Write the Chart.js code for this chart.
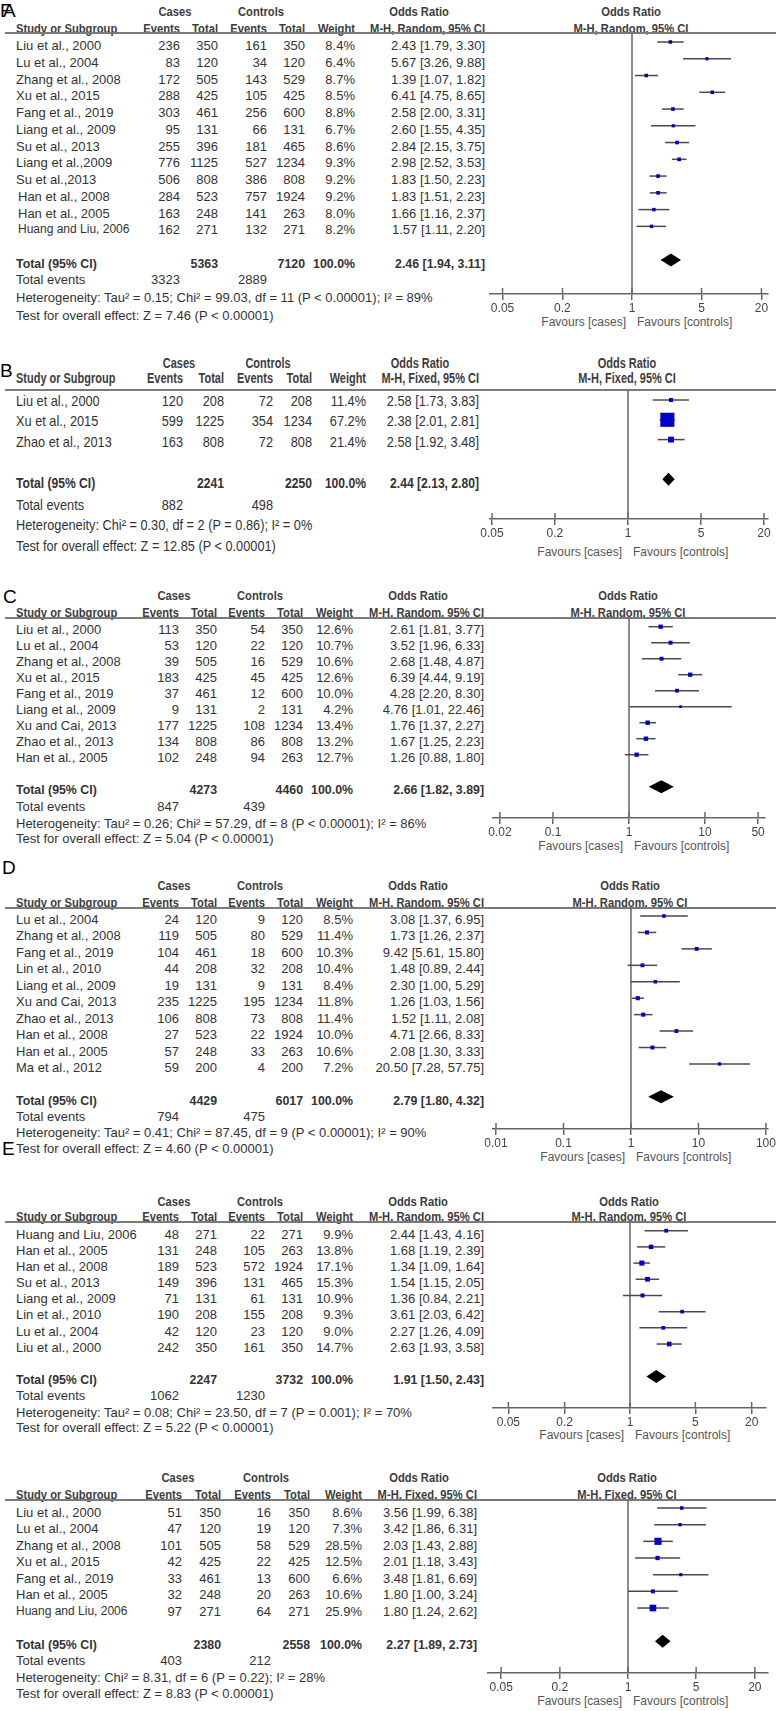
<!DOCTYPE html>
<html><head><meta charset="utf-8">
<script src="https://cdn.jsdelivr.net/npm/chart.js@4.4.0/dist/chart.umd.min.js"></script>
<style>
html,body{margin:0;padding:0;background:#fff;width:778px;height:1711px;overflow:hidden;}
#page{position:relative;width:778px;height:1711px;font-family:"Liberation Sans",Arial,sans-serif;color:#333;}
.t{position:absolute;white-space:nowrap;line-height:1;}
.hl{position:absolute;background:#7a7a7a;}
.wrap{position:absolute;}
</style></head><body><div id="page"></div>
<script>
// ---------------- DATA ----------------
// Panel A
const A_STUDY = ["Liu et al., 2000","Lu et al., 2004","Zhang et al., 2008","Xu et al., 2015","Fang et al., 2019","Liang et al., 2009","Su et al., 2013","Liang et al.,2009","Su et al.,2013","Han et al., 2008","Han et al., 2005","Huang and Liu, 2006"];
const A_CASE_EV = [236,83,172,288,303,95,255,776,506,284,163,162];
const A_CASE_N  = [350,120,505,425,461,131,396,1125,808,523,248,271];
const A_CTRL_EV = [161,34,143,105,256,66,181,527,386,757,141,132];
const A_CTRL_N  = [350,120,529,425,600,131,465,1234,808,1924,263,271];
const A_WEIGHT  = [8.4,6.4,8.7,8.5,8.8,6.7,8.6,9.3,9.2,9.2,8.0,8.2];
const A_OR = [2.43,5.67,1.39,6.41,2.58,2.60,2.84,2.98,1.83,1.83,1.66,1.57];
const A_LO = [1.79,3.26,1.07,4.75,2.00,1.55,2.15,2.52,1.50,1.51,1.16,1.11];
const A_HI = [3.30,9.88,1.82,8.65,3.31,4.35,3.75,3.53,2.23,2.23,2.37,2.20];
const A_TOTAL_N = [5363,7120];
const A_TOTAL_EV = [3323,2889];
const A_POOLED = [2.46,1.94,3.11];
const A_HET = "Heterogeneity: Tau\u00b2 = 0.15; Chi\u00b2 = 99.03, df = 11 (P < 0.00001); I\u00b2 = 89%";
const A_TEST = "Test for overall effect: Z = 7.46 (P < 0.00001)";
const A_METHOD = "Random";
const A_TICKS = [0.05,0.2,1,5,20];
const A_TICK_LABELS = ["0.05","0.2","1","5","20"];

// Panel B
const B_STUDY = ["Liu et al., 2000","Xu et al., 2015","Zhao et al., 2013"];
const B_CASE_EV = [120,599,163];
const B_CASE_N  = [208,1225,808];
const B_CTRL_EV = [72,354,72];
const B_CTRL_N  = [208,1234,808];
const B_WEIGHT  = [11.4,67.2,21.4];
const B_OR = [2.58,2.38,2.58];
const B_LO = [1.73,2.01,1.92];
const B_HI = [3.83,2.81,3.48];
const B_TOTAL_N = [2241,2250];
const B_TOTAL_EV = [882,498];
const B_POOLED = [2.44,2.13,2.80];
const B_HET = "Heterogeneity: Chi\u00b2 = 0.30, df = 2 (P = 0.86); I\u00b2 = 0%";
const B_TEST = "Test for overall effect: Z = 12.85 (P < 0.00001)";
const B_METHOD = "Fixed";
const B_TICKS = [0.05,0.2,1,5,20];
const B_TICK_LABELS = ["0.05","0.2","1","5","20"];

// Panel C
const C_STUDY = ["Liu et al., 2000","Lu et al., 2004","Zhang et al., 2008","Xu et al., 2015","Fang et al., 2019","Liang et al., 2009","Xu and Cai, 2013","Zhao et al., 2013","Han et al., 2005"];
const C_CASE_EV = [113,53,39,183,37,9,177,134,102];
const C_CASE_N  = [350,120,505,425,461,131,1225,808,248];
const C_CTRL_EV = [54,22,16,45,12,2,108,86,94];
const C_CTRL_N  = [350,120,529,425,600,131,1234,808,263];
const C_WEIGHT  = [12.6,10.7,10.6,12.6,10.0,4.2,13.4,13.2,12.7];
const C_OR = [2.61,3.52,2.68,6.39,4.28,4.76,1.76,1.67,1.26];
const C_LO = [1.81,1.96,1.48,4.44,2.20,1.01,1.37,1.25,0.88];
const C_HI = [3.77,6.33,4.87,9.19,8.30,22.46,2.27,2.23,1.80];
const C_TOTAL_N = [4273,4460];
const C_TOTAL_EV = [847,439];
const C_POOLED = [2.66,1.82,3.89];
const C_HET = "Heterogeneity: Tau\u00b2 = 0.26; Chi\u00b2 = 57.29, df = 8 (P < 0.00001); I\u00b2 = 86%";
const C_TEST = "Test for overall effect: Z = 5.04 (P < 0.00001)";
const C_METHOD = "Random";
const C_TICKS = [0.02,0.1,1,10,50];
const C_TICK_LABELS = ["0.02","0.1","1","10","50"];

// Panel D
const D_STUDY = ["Lu et al., 2004","Zhang et al., 2008","Fang et al., 2019","Lin et al., 2010","Liang et al., 2009","Xu and Cai, 2013","Zhao et al., 2013","Han et al., 2008","Han et al., 2005","Ma et al., 2012"];
const D_CASE_EV = [24,119,104,44,19,235,106,27,57,59];
const D_CASE_N  = [120,505,461,208,131,1225,808,523,248,200];
const D_CTRL_EV = [9,80,18,32,9,195,73,22,33,4];
const D_CTRL_N  = [120,529,600,208,131,1234,808,1924,263,200];
const D_WEIGHT  = [8.5,11.4,10.3,10.4,8.4,11.8,11.4,10.0,10.6,7.2];
const D_OR = [3.08,1.73,9.42,1.48,2.30,1.26,1.52,4.71,2.08,20.50];
const D_LO = [1.37,1.26,5.61,0.89,1.00,1.03,1.11,2.66,1.30,7.28];
const D_HI = [6.95,2.37,15.80,2.44,5.29,1.56,2.08,8.33,3.33,57.75];
const D_TOTAL_N = [4429,6017];
const D_TOTAL_EV = [794,475];
const D_POOLED = [2.79,1.80,4.32];
const D_HET = "Heterogeneity: Tau\u00b2 = 0.41; Chi\u00b2 = 87.45, df = 9 (P < 0.00001); I\u00b2 = 90%";
const D_TEST = "Test for overall effect: Z = 4.60 (P < 0.00001)";
const D_METHOD = "Random";
const D_TICKS = [0.01,0.1,1,10,100];
const D_TICK_LABELS = ["0.01","0.1","1","10","100"];

// Panel E
const E_STUDY = ["Huang and Liu, 2006","Han et al., 2005","Han et al., 2008","Su et al., 2013","Liang et al., 2009","Lin et al., 2010","Lu et al., 2004","Liu et al., 2000"];
const E_CASE_EV = [48,131,189,149,71,190,42,242];
const E_CASE_N  = [271,248,523,396,131,208,120,350];
const E_CTRL_EV = [22,105,572,131,61,155,23,161];
const E_CTRL_N  = [271,263,1924,465,131,208,120,350];
const E_WEIGHT  = [9.9,13.8,17.1,15.3,10.9,9.3,9.0,14.7];
const E_OR = [2.44,1.68,1.34,1.54,1.36,3.61,2.27,2.63];
const E_LO = [1.43,1.19,1.09,1.15,0.84,2.03,1.26,1.93];
const E_HI = [4.16,2.39,1.64,2.05,2.21,6.42,4.09,3.58];
const E_TOTAL_N = [2247,3732];
const E_TOTAL_EV = [1062,1230];
const E_POOLED = [1.91,1.50,2.43];
const E_HET = "Heterogeneity: Tau\u00b2 = 0.08; Chi\u00b2 = 23.50, df = 7 (P = 0.001); I\u00b2 = 70%";
const E_TEST = "Test for overall effect: Z = 5.22 (P < 0.00001)";
const E_METHOD = "Random";
const E_TICKS = [0.05,0.2,1,5,20];
const E_TICK_LABELS = ["0.05","0.2","1","5","20"];

// Panel F
const F_STUDY = ["Liu et al., 2000","Lu et al., 2004","Zhang et al., 2008","Xu et al., 2015","Fang et al., 2019","Han et al., 2005","Huang and Liu, 2006"];
const F_CASE_EV = [51,47,101,42,33,32,97];
const F_CASE_N  = [350,120,505,425,461,248,271];
const F_CTRL_EV = [16,19,58,22,13,20,64];
const F_CTRL_N  = [350,120,529,425,600,263,271];
const F_WEIGHT  = [8.6,7.3,28.5,12.5,6.6,10.6,25.9];
const F_OR = [3.56,3.42,2.03,2.01,3.48,1.80,1.80];
const F_LO = [1.99,1.86,1.43,1.18,1.81,1.00,1.24];
const F_HI = [6.38,6.31,2.88,3.43,6.69,3.24,2.62];
const F_TOTAL_N = [2380,2558];
const F_TOTAL_EV = [403,212];
const F_POOLED = [2.27,1.89,2.73];
const F_HET = "Heterogeneity: Chi\u00b2 = 8.31, df = 6 (P = 0.22); I\u00b2 = 28%";
const F_TEST = "Test for overall effect: Z = 8.83 (P < 0.00001)";
const F_METHOD = "Fixed";
const F_TICKS = [0.05,0.2,1,5,20];
const F_TICK_LABELS = ["0.05","0.2","1","5","20"];

// ---------------- LAYOUT (positions / styles only) ----------------
const LAYOUT = {
  A:{h1:11,h2:28,line:33,row0:42,pitch:16.76,tRow0:45,tPitch:16.76,ev:279,het:297,test:315,axis:294,fav:322,one:632,k:99.5,xl:490,xr:768,
     cols:[16,180,218,267,305,355,485],h1x:[175,261,419],rowStyle:{9:{dx:2},10:{dx:2},11:{dx:2,fs:12}}},
  B:{h1:363,h2:378,line:390,row0:400,pitch:19.8,tRow0:400.5,tPitch:20.6,ev:505,het:525,test:546,axis:519,fav:552,one:628,k:104.5,xl:490,xr:768,
     cols:[16,183,224,273,312,366,479],h1x:[179,268,420],fs:14.5,sx:0.88},
  C:{h1:595,h2:612,line:618,row0:626.7,pitch:16.0,tRow0:629,tPitch:16.0,ev:806,het:823,test:838,axis:818,fav:846,one:629,k:76,xl:493,xr:765,
     cols:[16,179,217,265,303,353,484],h1x:[174,260,418]},
  D:{h1:885,h2:902,line:908,row0:916,pitch:16.44,tRow0:919,tPitch:16.44,ev:1116,het:1132,test:1148,axis:1129,fav:1157,one:631,k:67.5,xl:493,xr:768,
     cols:[16,179,217,265,303,353,484],h1x:[174,260,418]},
  E:{h1:1201,h2:1216,line:1222,row0:1230.7,pitch:16.19,tRow0:1233.5,tPitch:16.19,ev:1395,het:1412,test:1427,axis:1408,fav:1435,one:630,k:93.5,xl:493,xr:766,
     cols:[16,179,217,265,303,353,484],h1x:[174,260,418]},
  F:{h1:1477,h2:1494,line:1500,row0:1508,pitch:16.67,tRow0:1511.5,tPitch:16.5,ev:1660,het:1677,test:1693,axis:1673,fav:1701,one:628,k:97.5,xl:488,xr:768,
     cols:[16,182,221,271,310,362,477],h1x:[178,266,419],rowStyle:{6:{fs:12}}}
};
const LETTERS = [["F",0,10],["A",3,10],["B",0,370],["C",3,596],["D",2,867],["E",2,1148]];

// ---------------- RENDER ----------------
const page = document.getElementById('page');
const FONT = '"Liberation Sans", Arial, sans-serif';

function put(s, x, y, al, o) {
  o = o || {};
  const d = document.createElement('div');
  d.className = 't';
  d.textContent = s;
  d.style.fontSize = (o.fs || 13) + 'px';
  if (o.bold) d.style.fontWeight = 'bold';
  d.style.color = o.color || '#333';
  const sx = o.sx || 1;
  const tx = al === 'l' ? '0' : (al === 'r' ? '-100%' : '-50%');
  d.style.left = x + 'px';
  d.style.top = y + 'px';
  d.style.transformOrigin = (al === 'l' ? 'left' : (al === 'r' ? 'right' : 'center')) + ' center';
  d.style.transform = 'translate(' + tx + ',-50%) scaleX(' + sx + ')';
  page.appendChild(d);
}
function hline(x1, x2, y, w) {
  const d = document.createElement('div');
  d.className = 'hl';
  d.style.left = x1 + 'px'; d.style.width = (x2 - x1) + 'px';
  d.style.top = (y - w / 2) + 'px'; d.style.height = w + 'px';
  page.appendChild(d);
}
function fmtOR(o, l, h) { return o.toFixed(2) + ' [' + l.toFixed(2) + ', ' + h.toFixed(2) + ']'; }

function forestPlugin(P) {
  return {
    id: 'forest' + P.id,
    beforeDatasetsDraw(chart) {
      const ctx = chart.ctx, ca = chart.chartArea, xs = chart.scales.x, ys = chart.scales.y;
      ctx.save();
      const x1 = xs.getPixelForValue(1);
      ctx.strokeStyle = '#666'; ctx.lineWidth = 1.5;
      ctx.beginPath(); ctx.moveTo(x1, ca.top); ctx.lineTo(x1, ca.bottom); ctx.stroke();
      ctx.beginPath();
      P.ticks.forEach(v => { const px = xs.getPixelForValue(v); ctx.moveTo(px, ca.bottom - 6); ctx.lineTo(px, ca.bottom); });
      ctx.stroke();
      ctx.strokeStyle = '#4a4a4a'; ctx.lineWidth = 1.5;
      P.lo.forEach((lo, i) => {
        const py = ys.getPixelForValue(i);
        const a = Math.max(ca.left, xs.getPixelForValue(lo)), b = Math.min(ca.right, xs.getPixelForValue(P.hi[i]));
        ctx.beginPath(); ctx.moveTo(a, py); ctx.lineTo(b, py); ctx.stroke();
      });
      const dy = ys.getPixelForValue(P.study.length + 1);
      const pl = xs.getPixelForValue(P.pooled[1]), pm = xs.getPixelForValue(P.pooled[0]), pr = xs.getPixelForValue(P.pooled[2]);
      ctx.fillStyle = '#000';
      ctx.beginPath(); ctx.moveTo(pl, dy); ctx.lineTo(pm, dy - 6.5); ctx.lineTo(pr, dy); ctx.lineTo(pm, dy + 6.5); ctx.closePath(); ctx.fill();
      ctx.restore();
    }
  };
}

function makeChart(P) {
  const L = P.L;
  const padL = 22, padR = 8;
  const wrap = document.createElement('div');
  wrap.className = 'wrap';
  let W = (L.xr - L.xl) + padL + padR;
  let H = (L.axis - L.line) + 40;
  wrap.style.width = W + 'px'; wrap.style.height = H + 'px';
  wrap.style.left = (L.xl - padL) + 'px'; wrap.style.top = L.line + 'px';
  const cv = document.createElement('canvas');
  wrap.appendChild(cv); page.appendChild(wrap);
  const xmin = Math.pow(10, (L.xl - L.one) / L.k), xmax = Math.pow(10, (L.xr - L.one) / L.k);
  const ymin = (L.line - L.row0) / L.pitch, ymax = (L.axis - L.row0) / L.pitch;
  const chart = new Chart(cv, {
    type: 'scatter',
    data: { datasets: [{
      data: P.or.map((v, i) => ({ x: v, y: i })),
      pointStyle: 'rect',
      pointRadius: P.w.map(w => (2 + 0.18 * w) / Math.SQRT2),
      pointHoverRadius: P.w.map(w => (2 + 0.18 * w) / Math.SQRT2),
      backgroundColor: '#0000c8', borderWidth: 0, pointBorderWidth: 0
    }]},
    options: {
      responsive: true, maintainAspectRatio: false, animation: false, events: [],
      layout: { padding: { left: padL, right: padR, top: 0, bottom: 0 }, autoPadding: false },
      plugins: { legend: { display: false }, tooltip: { enabled: false } },
      scales: {
        x: {
          type: 'logarithmic', min: xmin, max: xmax,
          afterBuildTicks: s => { s.ticks = P.ticks.map(v => ({ value: v })); },
          ticks: { autoSkip: false, maxRotation: 0, padding: 1, color: '#444', font: { family: FONT, size: 12 },
                   callback: (v, i) => P.tickLabels[i] },
          grid: { display: true, drawOnChartArea: false, drawTicks: true, tickLength: 6, color: '#666', lineWidth: 1.5 },
          border: { display: true, color: '#666', width: 1.5 }
        },
        y: { type: 'linear', display: false, reverse: true, min: ymin, max: ymax }
      }
    },
    plugins: [forestPlugin(P)]
  });
  for (let pass = 0; pass < 2; pass++) {
    const ca = chart.chartArea;
    H += (L.axis - L.line) - (ca.bottom - ca.top);
    W += (L.xr - L.xl) - (ca.right - ca.left);
    wrap.style.height = H + 'px'; wrap.style.width = W + 'px';
    chart.resize();
  }
  const ca = chart.chartArea;
  wrap.style.top = (L.line - ca.top) + 'px';
  wrap.style.left = (L.xl - ca.left) + 'px';
}

function renderPanel(P) {
  const L = P.L, c = L.cols, fs = L.fs || 13, sx = L.sx || 1;
  const hdr = { bold: true, fs: fs, color: '#3c3c3c', sx: 0.86 * sx };
  put('Cases', L.h1x[0], L.h1, 'c', hdr);
  put('Controls', L.h1x[1], L.h1, 'c', hdr);
  put('Odds Ratio', L.h1x[2], L.h1, 'c', hdr);
  put('Odds Ratio', L.one - 1, L.h1, 'c', hdr);
  put('Study or Subgroup', c[0], L.h2, 'l', hdr);
  put('Events', c[1], L.h2, 'r', hdr);
  put('Total', c[2], L.h2, 'r', hdr);
  put('Events', c[3], L.h2, 'r', hdr);
  put('Total', c[4], L.h2, 'r', hdr);
  put('Weight', c[5], L.h2, 'r', hdr);
  const mh = 'M-H, ' + P.method + ', 95% CI';
  put(mh, c[6], L.h2, 'r', hdr);
  put(mh, L.one - 1, L.h2, 'c', hdr);
  hline(5, 776, L.line, 2);
  const n = P.study.length, o = { fs: fs, sx: sx };
  const rs = L.rowStyle || {};
  for (let i = 0; i < n; i++) {
    const y = L.tRow0 + i * L.tPitch;
    const st = rs[i] || {};
    put(P.study[i], c[0] + (st.dx || 0), y, 'l', { fs: st.fs || fs, sx: sx });
    put(String(P.ce[i]), c[1], y, 'r', o);
    put(String(P.cn[i]), c[2], y, 'r', o);
    put(String(P.xe[i]), c[3], y, 'r', o);
    put(String(P.xn[i]), c[4], y, 'r', o);
    put(P.w[i].toFixed(1) + '%', c[5], y, 'r', o);
    put(fmtOR(P.or[i], P.lo[i], P.hi[i]), c[6], y, 'r', o);
  }
  const ty = L.tRow0 + (n + 1) * L.tPitch, b = { fs: fs, bold: true, sx: sx * 0.95 };
  put('Total (95% CI)', c[0], ty, 'l', b);
  put(String(P.totN[0]), c[2], ty, 'r', b);
  put(String(P.totN[1]), c[4], ty, 'r', b);
  put('100.0%', c[5], ty, 'r', b);
  put(fmtOR(P.pooled[0], P.pooled[1], P.pooled[2]), c[6], ty, 'r', b);
  put('Total events', c[0], L.ev, 'l', o);
  put(String(P.totEv[0]), c[1], L.ev, 'r', o);
  put(String(P.totEv[1]), c[3], L.ev, 'r', o);
  put(P.het, c[0], L.het, 'l', o);
  put(P.test, c[0], L.test, 'l', o);
  put('Favours [cases]', L.one - 6, L.fav, 'r', { fs: 12, color: '#555' });
  put('Favours [controls]', L.one + 5, L.fav, 'l', { fs: 12, color: '#555' });
  makeChart(P);
}

const PANELS = [
  {id:'A',study:A_STUDY,ce:A_CASE_EV,cn:A_CASE_N,xe:A_CTRL_EV,xn:A_CTRL_N,w:A_WEIGHT,or:A_OR,lo:A_LO,hi:A_HI,totN:A_TOTAL_N,totEv:A_TOTAL_EV,pooled:A_POOLED,het:A_HET,test:A_TEST,method:A_METHOD,ticks:A_TICKS,tickLabels:A_TICK_LABELS,L:LAYOUT.A},
  {id:'B',study:B_STUDY,ce:B_CASE_EV,cn:B_CASE_N,xe:B_CTRL_EV,xn:B_CTRL_N,w:B_WEIGHT,or:B_OR,lo:B_LO,hi:B_HI,totN:B_TOTAL_N,totEv:B_TOTAL_EV,pooled:B_POOLED,het:B_HET,test:B_TEST,method:B_METHOD,ticks:B_TICKS,tickLabels:B_TICK_LABELS,L:LAYOUT.B},
  {id:'C',study:C_STUDY,ce:C_CASE_EV,cn:C_CASE_N,xe:C_CTRL_EV,xn:C_CTRL_N,w:C_WEIGHT,or:C_OR,lo:C_LO,hi:C_HI,totN:C_TOTAL_N,totEv:C_TOTAL_EV,pooled:C_POOLED,het:C_HET,test:C_TEST,method:C_METHOD,ticks:C_TICKS,tickLabels:C_TICK_LABELS,L:LAYOUT.C},
  {id:'D',study:D_STUDY,ce:D_CASE_EV,cn:D_CASE_N,xe:D_CTRL_EV,xn:D_CTRL_N,w:D_WEIGHT,or:D_OR,lo:D_LO,hi:D_HI,totN:D_TOTAL_N,totEv:D_TOTAL_EV,pooled:D_POOLED,het:D_HET,test:D_TEST,method:D_METHOD,ticks:D_TICKS,tickLabels:D_TICK_LABELS,L:LAYOUT.D},
  {id:'E',study:E_STUDY,ce:E_CASE_EV,cn:E_CASE_N,xe:E_CTRL_EV,xn:E_CTRL_N,w:E_WEIGHT,or:E_OR,lo:E_LO,hi:E_HI,totN:E_TOTAL_N,totEv:E_TOTAL_EV,pooled:E_POOLED,het:E_HET,test:E_TEST,method:E_METHOD,ticks:E_TICKS,tickLabels:E_TICK_LABELS,L:LAYOUT.E},
  {id:'F',study:F_STUDY,ce:F_CASE_EV,cn:F_CASE_N,xe:F_CTRL_EV,xn:F_CTRL_N,w:F_WEIGHT,or:F_OR,lo:F_LO,hi:F_HI,totN:F_TOTAL_N,totEv:F_TOTAL_EV,pooled:F_POOLED,het:F_HET,test:F_TEST,method:F_METHOD,ticks:F_TICKS,tickLabels:F_TICK_LABELS,L:LAYOUT.F}
];

LETTERS.forEach(l => put(l[0], l[1], l[2], 'l', { fs: 19, color: '#000' }));
PANELS.forEach(renderPanel);
</script>
</body></html>
